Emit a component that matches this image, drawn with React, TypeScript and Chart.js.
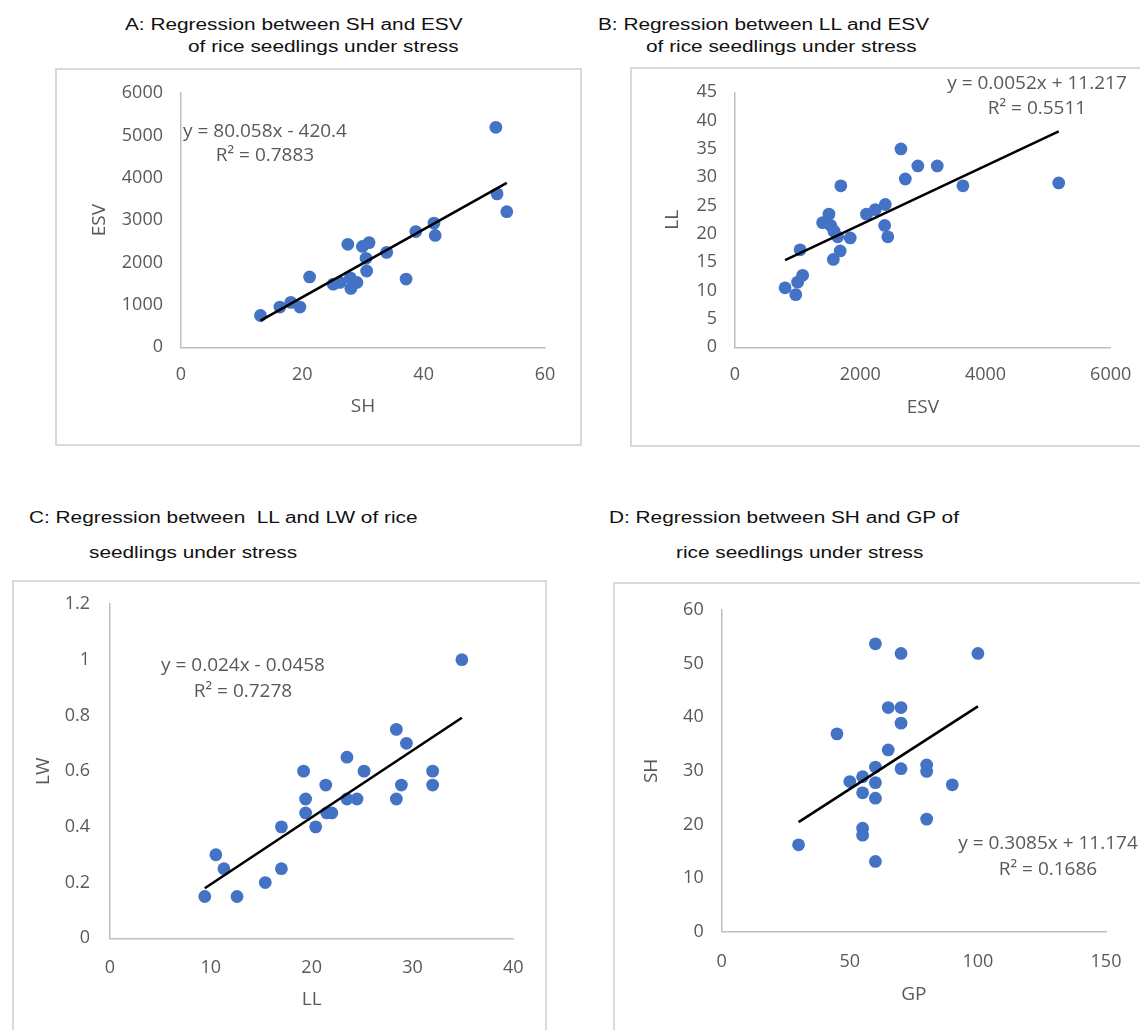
import React, { useEffect, useRef } from "react";
import { Chart, registerables } from "chart.js";

Chart.register(...registerables);

// ---------- Data ----------
// A: SH (x) vs ESV (y)
const shA = [13.1, 16.3, 18.1, 19.6, 21.2, 25.1, 26.2, 27.5, 27.9, 28.0, 29.0, 29.9, 31.0, 30.5, 30.6, 33.9, 37.1, 38.7, 41.7, 41.9, 51.9, 52.1, 53.7];
const esvA = [750, 950, 1060, 950, 1660, 1490, 1530, 2430, 1640, 1390, 1530, 2380, 2470, 2100, 1800, 2240, 1610, 2730, 2930, 2640, 5190, 3620, 3200];
const slopeA = 80.058;
const interceptA = -420.4;
const eqA = ["y = 80.058x - 420.4", "R\u00B2 = 0.7883"];

// B: ESV (x) vs LL (y)
const esvB = [800, 970, 1000, 1080, 1040, 1400, 1500, 1530, 1580, 1640, 1840, 1680, 1570, 1690, 2100, 2240, 2400, 2390, 2440, 2650, 2720, 2920, 3230, 3640, 5170];
const llB = [10.5, 9.3, 11.5, 12.7, 17.2, 22.0, 23.5, 21.5, 20.5, 19.5, 19.3, 17.0, 15.5, 28.5, 23.5, 24.3, 25.2, 21.5, 19.5, 35.0, 29.7, 32.0, 32.0, 28.5, 29.0];
const slopeB = 0.0052;
const interceptB = 11.217;
const eqB = ["y = 0.0052x + 11.217", "R\u00B2 = 0.5511"];

// C: LL (x) vs LW (y)
const llC = [9.4, 10.5, 11.3, 12.6, 15.4, 17.0, 17.0, 19.2, 19.4, 19.4, 20.4, 21.4, 21.5, 22.0, 23.5, 23.5, 24.5, 25.2, 28.4, 28.4, 28.9, 29.4, 32.0, 32.0, 34.9];
const lwC = [0.15, 0.30, 0.25, 0.15, 0.20, 0.40, 0.25, 0.60, 0.50, 0.45, 0.40, 0.55, 0.45, 0.45, 0.65, 0.50, 0.50, 0.60, 0.75, 0.50, 0.55, 0.70, 0.60, 0.55, 1.00];
const slopeC = 0.024;
const interceptC = -0.0458;
const eqC = ["y = 0.024x - 0.0458", "R\u00B2 = 0.7278"];

// D: GP (x) vs SH (y)
const gpD = [30, 45, 50, 55, 55, 55, 55, 60, 60, 60, 60, 60, 65, 65, 70, 70, 70, 70, 80, 80, 80, 90, 100];
const shD = [16.2, 36.9, 28.0, 28.9, 25.9, 19.3, 18.0, 30.7, 27.8, 24.9, 13.1, 53.7, 33.9, 41.8, 41.8, 38.9, 51.9, 30.4, 31.1, 29.9, 21.0, 27.4, 51.9];
const slopeD = 0.3085;
const interceptD = 11.174;
const eqD = ["y = 0.3085x + 11.174", "R\u00B2 = 0.1686"];

// Axis ranges / ticks
const axesA = { xMin: 0, xMax: 60, xStep: 20, yMin: 0, yMax: 6000, yStep: 1000, xTitle: "SH", yTitle: "ESV" };
const axesB = { xMin: 0, xMax: 6000, xStep: 2000, yMin: 0, yMax: 45, yStep: 5, xTitle: "ESV", yTitle: "LL" };
const axesC = { xMin: 0, xMax: 40, xStep: 10, yMin: 0, yMax: 1.2, yStep: 0.2, xTitle: "LL", yTitle: "LW" };
const axesD = { xMin: 0, xMax: 150, xStep: 50, yMin: 0, yMax: 60, yStep: 10, xTitle: "GP", yTitle: "SH" };

const titlesA = ["A: Regression between SH and ESV", "of rice seedlings under stress"];
const titlesB = ["B: Regression between LL and ESV", "of rice seedlings under stress"];
const titlesC = ["C: Regression between  LL and LW of rice", "seedlings under stress"];
const titlesD = ["D: Regression between SH and GP of", "rice seedlings under stress"];

// ---------- Styling / layout ----------
const FONT = "'Open Sans', 'DejaVu Sans', sans-serif";
const TITLE_FONT = "'Liberation Sans', Arial, sans-serif";
const GRAY = "#595959";
const POINT = "#4472C4";
const TICK_SIZE = 18;
const AXIS_TITLE_SIZE = 19;
const EQ_SIZE = 19;

type Layout = {
  box: { x: number; y: number; w: number; h: number };
  area: { l: number; r: number; t: number; b: number };
  yTitleX: number;
  xTitleY: number;
  yPad: number;
  xPad: number;
  eqX: number;
  eqY1: number;
  eqY2: number;
  titleLines: { x: number; y: number }[];
};

const layoutA: Layout = {
  box: { x: 55, y: 68, w: 527, h: 378 },
  area: { l: 181, r: 545, t: 93, b: 347.3 },
  yTitleX: 100, xTitleY: 407, yPad: 18, xPad: 17,
  eqX: 265, eqY1: 131.7, eqY2: 156,
  titleLines: [{ x: 125, y: 25 }, { x: 188, y: 47 }],
};
const layoutB: Layout = {
  box: { x: 630, y: 67, w: 510, h: 380 },
  area: { l: 735, r: 1110.7, t: 92.3, b: 347.3 },
  yTitleX: 673, xTitleY: 407.3, yPad: 18, xPad: 17,
  eqX: 1037, eqY1: 84, eqY2: 108.3,
  titleLines: [{ x: 598, y: 25 }, { x: 646, y: 47 }],
};
const layoutC: Layout = {
  box: { x: 12, y: 580, w: 535, h: 450 },
  area: { l: 110, r: 513.3, t: 604, b: 938.3 },
  yTitleX: 44, xTitleY: 1000, yPad: 20, xPad: 18.5,
  eqX: 243, eqY1: 666, eqY2: 691.7,
  titleLines: [{ x: 29, y: 518 }, { x: 89, y: 553 }],
};
const layoutD: Layout = {
  box: { x: 613, y: 582, w: 527, h: 448 },
  area: { l: 721.7, r: 1106, t: 610, b: 931.7 },
  yTitleX: 652, xTitleY: 995, yPad: 18, xPad: 19,
  eqX: 1048, eqY1: 844, eqY2: 869.3,
  titleLines: [{ x: 609, y: 518 }, { x: 676, y: 553 }],
};

type Axes = typeof axesA;

function fmt(v: number) {
  return String(Number(Number(v).toFixed(3)));
}

function zeroPad(s: any) {
  s.paddingTop = 0;
  s.paddingBottom = 0;
  s.paddingLeft = 0;
  s.paddingRight = 0;
}

function Panel(props: {
  xs: number[]; ys: number[]; slope: number; intercept: number; eq: string[];
  axes: Axes; layout: Layout; titles: string[];
}) {
  const { xs, ys, slope, intercept, eq, axes, layout, titles } = props;
  const ref = useRef<HTMLCanvasElement>(null);

  useEffect(() => {
    const canvas = ref.current;
    if (!canvas) return;
    const { box, area } = layout;
    const lh = AXIS_TITLE_SIZE * 1.2;
    const padLeft = layout.yTitleX - box.x - lh / 2;
    const wy = area.l - box.x - padLeft;
    const padTop = area.t - box.y;
    const padRight = box.x + box.w - area.r;
    const padBottom = box.y + box.h - layout.xTitleY - lh / 2;
    const hx = box.y + box.h - padBottom - area.b;

    const points = xs.map((x, i) => ({ x, y: ys[i] }));
    const xMinD = Math.min(...xs);
    const xMaxD = Math.max(...xs);
    const trend = [
      { x: xMinD, y: slope * xMinD + intercept },
      { x: xMaxD, y: slope * xMaxD + intercept },
    ];

    const eqPlugin = {
      id: "eqLabel",
      afterDatasetsDraw(chart: any) {
        const ctx = chart.ctx;
        ctx.save();
        ctx.fillStyle = GRAY;
        ctx.font = `${EQ_SIZE}px ${FONT}`;
        ctx.textAlign = "center";
        ctx.textBaseline = "middle";
        ctx.fillText(eq[0], layout.eqX - box.x, layout.eqY1 - box.y);
        ctx.fillText(eq[1], layout.eqX - box.x, layout.eqY2 - box.y);
        ctx.restore();
      },
    };

    const axisCommon = {
      grid: { display: true, color: "rgba(0,0,0,0)", drawTicks: false },
      border: { display: true, color: "#bfbfbf", width: 1.5 },
    };

    const chart = new Chart(canvas, {
      type: "scatter",
      data: {
        datasets: [
          {
            data: trend,
            showLine: true,
            borderColor: "#000000",
            borderWidth: 2.6,
            pointRadius: 0,
            pointHoverRadius: 0,
            fill: false,
          } as any,
          {
            data: points,
            backgroundColor: POINT,
            borderColor: POINT,
            borderWidth: 0,
            pointRadius: 6.4,
            pointHoverRadius: 6.4,
          },
        ],
      },
      options: {
        animation: false,
        responsive: false,
        events: [],
        layout: { autoPadding: false, padding: { left: padLeft, right: padRight, top: padTop, bottom: padBottom } },
        plugins: { legend: { display: false }, tooltip: { enabled: false } },
        scales: {
          x: {
            type: "linear",
            min: axes.xMin,
            max: axes.xMax,
            ...axisCommon,
            ticks: {
              stepSize: axes.xStep,
              color: GRAY,
              padding: layout.xPad,
              maxRotation: 0,
              font: { family: FONT, size: TICK_SIZE },
              callback: (v: any) => fmt(v),
            },
            title: {
              display: true,
              text: axes.xTitle,
              color: GRAY,
              padding: 0,
              font: { family: FONT, size: AXIS_TITLE_SIZE },
            },
            afterFit: (s: any) => { s.height = hx; zeroPad(s); },
          },
          y: {
            type: "linear",
            min: axes.yMin,
            max: axes.yMax,
            ...axisCommon,
            ticks: {
              stepSize: axes.yStep,
              color: GRAY,
              padding: layout.yPad,
              font: { family: FONT, size: TICK_SIZE },
              callback: (v: any) => fmt(v),
            },
            title: {
              display: true,
              text: axes.yTitle,
              color: GRAY,
              padding: 0,
              font: { family: FONT, size: AXIS_TITLE_SIZE },
            },
            afterFit: (s: any) => { s.width = wy; zeroPad(s); },
          },
        },
      } as any,
      plugins: [eqPlugin],
    });
    return () => chart.destroy();
  }, []);

  const { box } = layout;
  return (
    <>
      <div
        style={{
          position: "absolute",
          left: box.x,
          top: box.y,
          width: box.w + (box.x + box.w >= 1140 ? 10 : 0),
          height: box.h + (box.y + box.h >= 1030 ? 10 : 0),
          border: "2px solid #d9d9d9",
          boxSizing: "border-box",
        }}
      />
      <canvas
        ref={ref}
        width={box.w}
        height={box.h}
        style={{ position: "absolute", left: box.x, top: box.y, width: box.w, height: box.h }}
      />
      {titles.map((t, i) => (
        <div
          key={i}
          style={{
            position: "absolute",
            left: layout.titleLines[i].x,
            top: layout.titleLines[i].y - 10,
            height: 20,
            lineHeight: "20px",
            fontFamily: TITLE_FONT,
            fontSize: 16,
            color: "#111",
            whiteSpace: "pre",
            transform: "scaleX(1.3)",
            transformOrigin: "left center",
          }}
        >
          {t}
        </div>
      ))}
    </>
  );
}

export default function App() {
  return (
    <div
      style={{
        position: "absolute",
        left: 0,
        top: 0,
        width: 1140,
        height: 1030,
        overflow: "hidden",
        background: "#ffffff",
      }}
    >
      <Panel xs={shA} ys={esvA} slope={slopeA} intercept={interceptA} eq={eqA} axes={axesA} layout={layoutA} titles={titlesA} />
      <Panel xs={esvB} ys={llB} slope={slopeB} intercept={interceptB} eq={eqB} axes={axesB} layout={layoutB} titles={titlesB} />
      <Panel xs={llC} ys={lwC} slope={slopeC} intercept={interceptC} eq={eqC} axes={axesC} layout={layoutC} titles={titlesC} />
      <Panel xs={gpD} ys={shD} slope={slopeD} intercept={interceptD} eq={eqD} axes={axesD} layout={layoutD} titles={titlesD} />
    </div>
  );
}
